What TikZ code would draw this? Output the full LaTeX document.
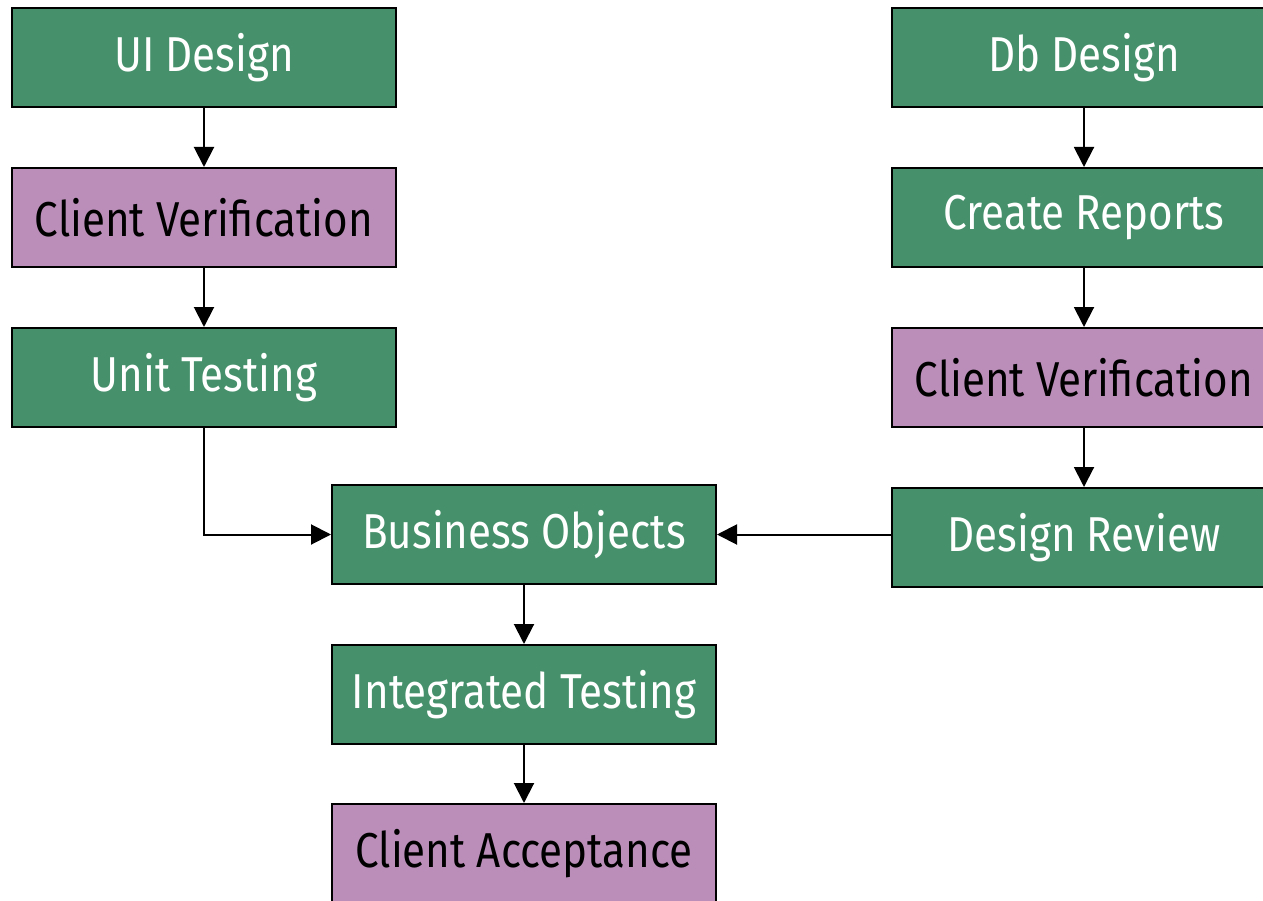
\documentclass[tikz,border=0pt]{standalone}
\usepackage{fontspec}
\setmainfont{Fira Sans}[FakeStretch=0.86]
\usetikzlibrary{arrows.meta}
\definecolor{boxgreen}{RGB}{70,145,108}
\definecolor{boxpurple}{RGB}{187,142,185}
\tikzset{
  x=1pt, y=-1pt,
  procbox/.style={draw=black, line width=2pt, minimum width=384pt, minimum height=99pt, inner sep=0pt,
    font=\fontsize{49}{52}\selectfont, anchor=center},
  greenbox/.style={procbox, fill=boxgreen, text=white},
  purplebox/.style={procbox, fill=boxpurple, text=black},
  conn/.style={draw=black, line width=2pt, -{Triangle[length=20pt,width=20pt]}},
}
\begin{document}
\begin{tikzpicture}
\useasboundingbox (0,0) rectangle (1263,901);
\fill[white] (0,0) rectangle (1263,901);
\node[greenbox] (ui) at (204,57.5) {UI Design};
\node[purplebox] (cv1) at (204,217.5) {Client Verification};
\node[greenbox] (ut) at (204,377.5) {Unit Testing};
\node[greenbox] (bo) at (524,534.5) {Business Objects};
\node[greenbox] (it) at (524,694.5) {Integrated Testing};
\node[purplebox] (ca) at (524,853.5) {Client Acceptance};
\node[greenbox] (db) at (1084,57.5) {Db Design};
\node[greenbox] (cr) at (1084,217.5) {Create Reports};
\node[purplebox] (cv2) at (1084,377.5) {Client Verification};
\node[greenbox] (dr) at (1084,537.5) {Design Review};
\draw[conn] (ui) -- (cv1);
\draw[conn] (cv1) -- (ut);
\draw[conn] (ut.south) |- (bo.west);
\draw[conn] (bo) -- (it);
\draw[conn] (it) -- (ca);
\draw[conn] (db) -- (cr);
\draw[conn] (cr) -- (cv2);
\draw[conn] (cv2) -- (dr);
\draw[conn] (dr.west |- bo.east) -- (bo.east);
\end{tikzpicture}
\end{document}
